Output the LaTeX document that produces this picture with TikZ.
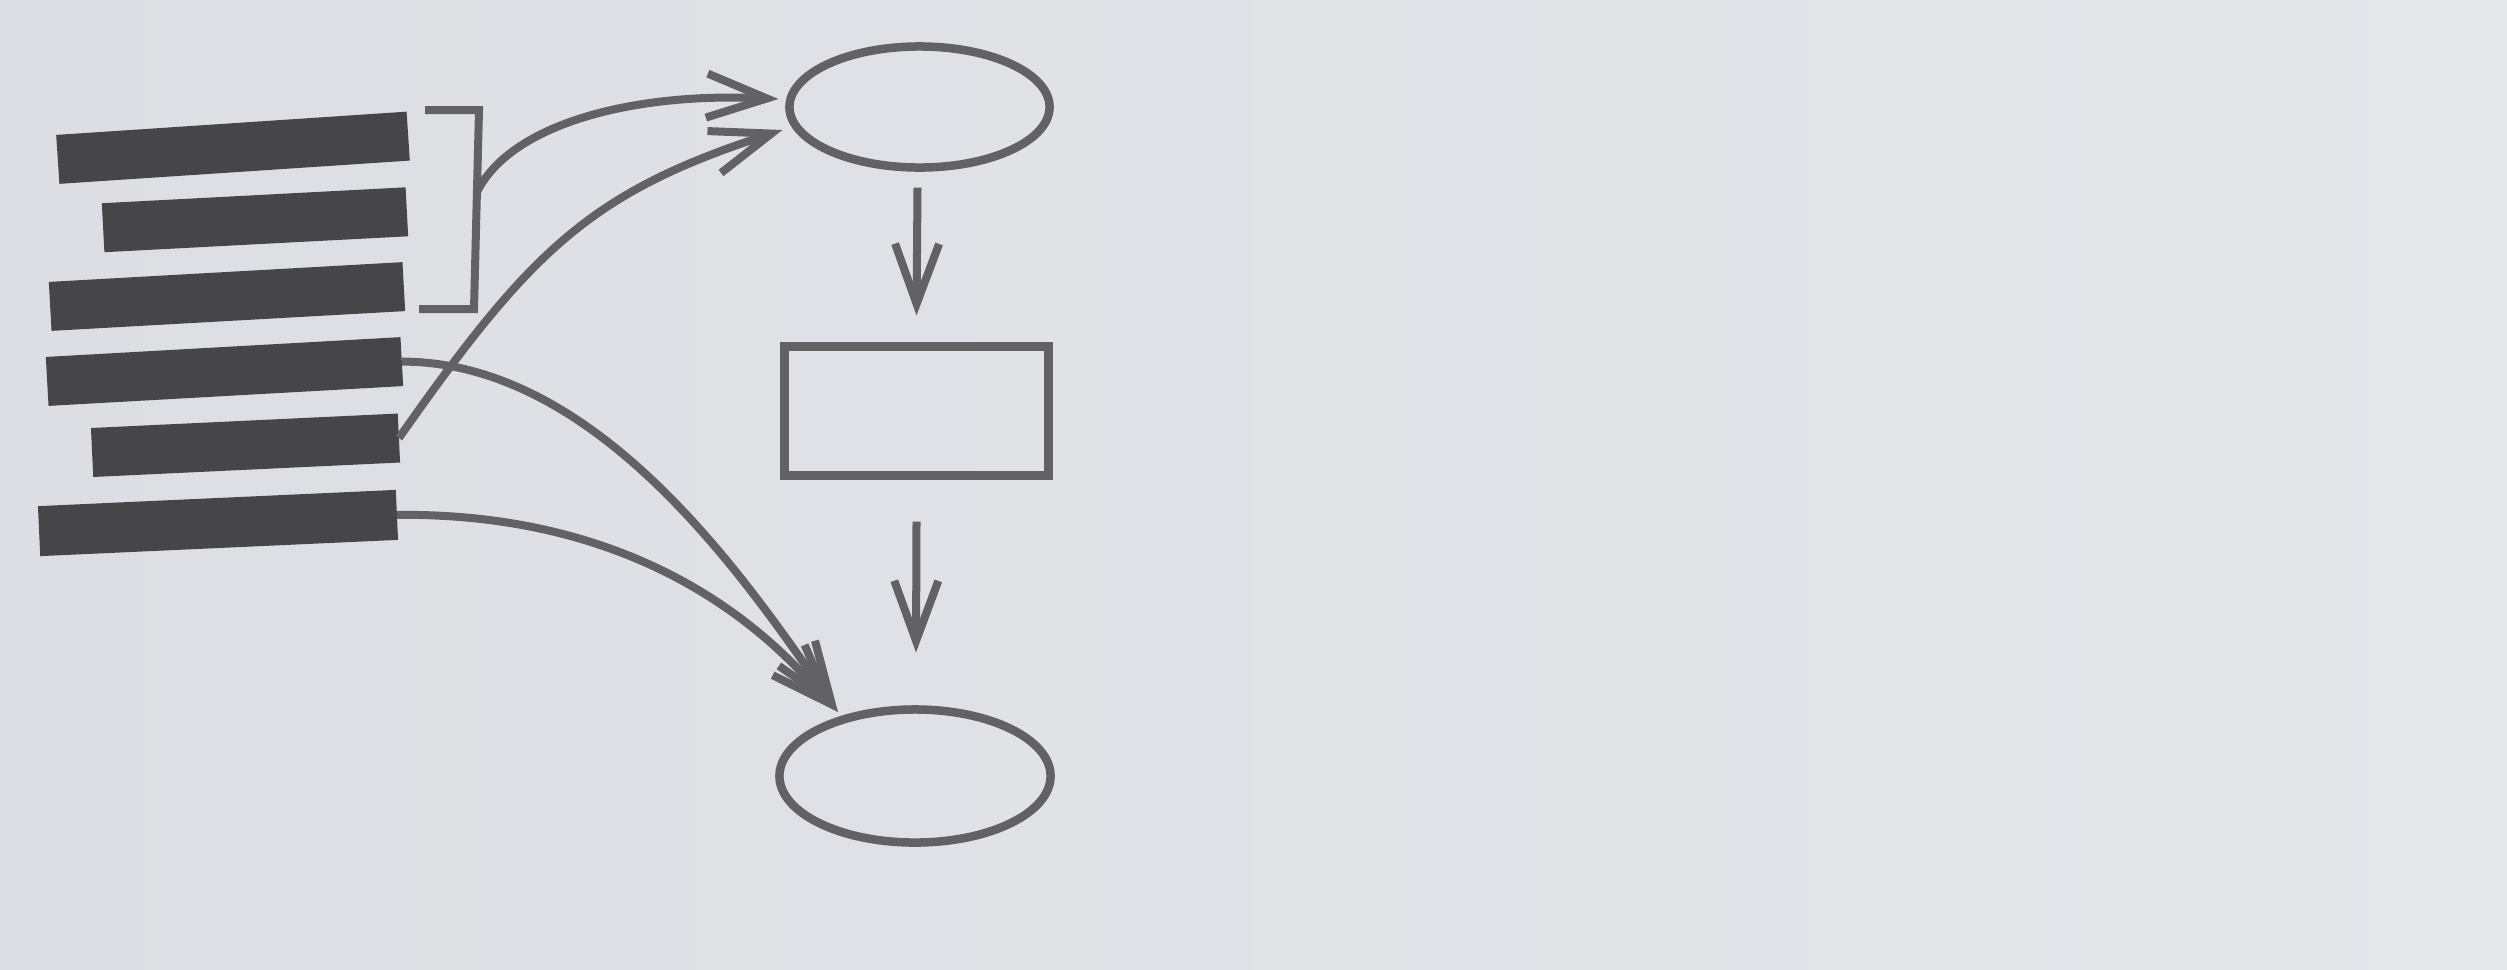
\documentclass[tikz,border=0pt]{standalone}
\usetikzlibrary{arrows.meta,shapes.geometric,calc}
\definecolor{pagel}{RGB}{221,222,227}
\definecolor{pager}{RGB}{230,231,235}
\definecolor{inkline}{RGB}{98,98,100}
\definecolor{inkbar}{RGB}{70,70,72}
\begin{document}
\begin{tikzpicture}[x=0.01cm,y=-0.01cm,
  bar/.style={fill=inkbar,draw=none,inner sep=0pt,outer sep=0pt,minimum height=0.49cm},
  shapeline/.style={draw=inkline,line width=0.085cm,inner sep=0pt,outer sep=0pt},
  conn/.style={draw=inkline,line width=0.08cm,line join=miter,-{Straight Barb[length=0.6cm,width=0.44cm]}},
  brk/.style={draw=inkline,line width=0.08cm}]
\shade[left color=pagel,right color=pager] (0,0) rectangle (2507,969);
\useasboundingbox (0,0) rectangle (2507,969);
% bars
\node[bar,minimum width=3.51cm,rotate=3.8] (b1) at (233,147.75) {};
\node[bar,minimum width=3.04cm,rotate=3.0] (b2) at (255,219.75) {};
\node[bar,minimum width=3.54cm,rotate=3.2] (b3) at (227,296.5) {};
\node[bar,minimum width=3.55cm,rotate=3.2] (b4) at (224.5,371.5) {};
\node[bar,minimum width=3.07cm,rotate=2.7] (b5) at (245.5,445.25) {};
\node[bar,minimum width=3.58cm,rotate=2.6,minimum height=0.5cm] (b6) at (218,523) {};
% shapes
\node[shapeline,ellipse,minimum width=2.60cm,minimum height=1.21cm] (top) at (919.5,107) {};
\node[shapeline,rectangle,minimum width=2.64cm,minimum height=1.29cm] (mid) at (916.5,411) {};
\node[shapeline,ellipse,minimum width=2.71cm,minimum height=1.33cm] (bot) at (915,776) {};
% bracket
\coordinate (k1) at (425,110);
\coordinate (k2) at (479,110);
\coordinate (k3) at (474,309);
\coordinate (k4) at (419,309);
\coordinate (kmid) at (477,192);
\draw[brk] (k1) -- (k2) -- (k3) -- (k4);
% connectors
\draw[conn] (kmid) .. controls +(33,-67) and +(-148,-7) .. ($(top.west)+(-11,-8)$);
\draw[conn] (b5.east) .. controls +(132,-188) and +(-192,62) .. ($(top.west)+(-7,23)$);
\draw[conn] (b4.east) .. controls +(200,0) and +(-86,-123) .. ($(bot.center)+(-77,-64)$);
\draw[conn] (b6.east) .. controls +(283,-3) and +(-38,-40) .. ($(bot.center)+(-77,-64)$);
\draw[conn] ($(top.south)+(-2,20)$) -- ($(mid.north)+(0,-31)$);
\draw[conn] ($(mid.south)+(0,46)$) -- ($(bot.north)+(1,-57)$);
\end{tikzpicture}
\end{document}
